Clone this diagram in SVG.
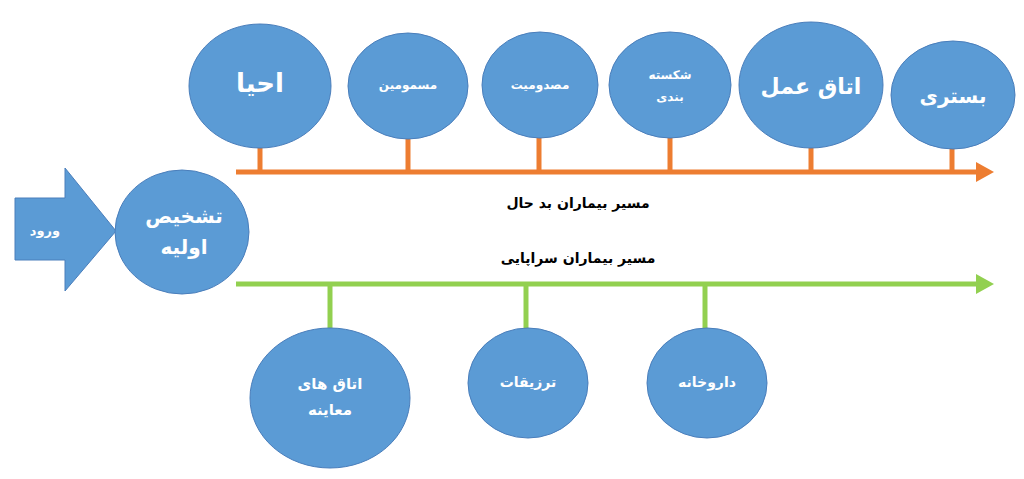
<svg xmlns="http://www.w3.org/2000/svg" width="1024" height="479" viewBox="0 0 1024 479">
<defs>
<style>
.n{fill:#5B9BD5;stroke:#4A7EBB;stroke-width:1}
.t{fill:#ffffff;font-family:"DejaVu Sans",sans-serif;font-weight:bold;text-anchor:middle;dominant-baseline:central}
.k{fill:#000000;font-family:"DejaVu Sans",sans-serif;font-weight:bold;text-anchor:middle;dominant-baseline:central;font-size:14px}
.o{stroke:#ED7D31;stroke-width:5;fill:none}
.g{stroke:#92D050;stroke-width:5;fill:none}
</style>
<marker id="ao" markerUnits="userSpaceOnUse" markerWidth="18" markerHeight="20" refX="2" refY="10" orient="auto"><path d="M0,0 L18,10 L0,20 Z" fill="#ED7D31"/></marker>
<marker id="ag" markerUnits="userSpaceOnUse" markerWidth="18" markerHeight="20" refX="2" refY="10" orient="auto"><path d="M0,0 L18,10 L0,20 Z" fill="#92D050"/></marker>
</defs>
<rect width="1024" height="479" fill="#ffffff"/>
<g id="connectors">
<line class="o" x1="236" y1="172" x2="978" y2="172" marker-end="url(#ao)"/>
<line class="o" x1="260" y1="148" x2="260" y2="172"/>
<line class="o" x1="408" y1="139" x2="408" y2="172"/>
<line class="o" x1="539" y1="138" x2="539" y2="172"/>
<line class="o" x1="670" y1="138" x2="670" y2="172"/>
<line class="o" x1="811" y1="148" x2="811" y2="172"/>
<line class="o" x1="952" y1="148" x2="952" y2="172"/>
<line class="g" x1="236" y1="284" x2="978" y2="284" marker-end="url(#ag)"/>
<line class="g" x1="330" y1="284" x2="330" y2="328"/>
<line class="g" x1="526" y1="284" x2="526" y2="329"/>
<line class="g" x1="705" y1="284" x2="705" y2="329"/>
</g>
<g id="entry">
<path class="n" d="M15,198 L65,198 L65,168 L116,231 L65,291 L65,260 L15,260 Z"/>
<text class="t" x="45" y="230" font-size="13">ورود</text>
</g>
<g id="diagnosis">
<ellipse class="n" cx="182" cy="232" rx="67" ry="62"/>
<text class="t" x="184" y="216" font-size="20">تشخیص</text>
<text class="t" x="184" y="247" font-size="20">اولیه</text>
</g>
<g id="ehya">
<ellipse class="n" cx="260" cy="86" rx="71" ry="62"/>
<text class="t" x="260" y="83" font-size="26">احیا</text>
</g>
<g id="masmumin">
<ellipse class="n" cx="408" cy="86" rx="60" ry="53"/>
<text class="t" x="408" y="85" font-size="12">مسمومین</text>
</g>
<g id="masdumiat">
<ellipse class="n" cx="540" cy="85" rx="58" ry="53"/>
<text class="t" x="540" y="85" font-size="12">مصدومیت</text>
</g>
<g id="shekaste">
<ellipse class="n" cx="670" cy="85" rx="61" ry="53"/>
<text class="t" x="670" y="75" font-size="12">شکسته</text>
<text class="t" x="670" y="97" font-size="12">بندی</text>
</g>
<g id="otagh-amal">
<ellipse class="n" cx="811" cy="85" rx="72" ry="63"/>
<text class="t" x="811" y="86" font-size="22">اتاق عمل</text>
</g>
<g id="bastari">
<ellipse class="n" cx="953" cy="95" rx="62" ry="54"/>
<text class="t" x="953" y="96" font-size="20">بستری</text>
</g>
<g id="labels">
<text class="k" x="578" y="203">مسیر بیماران بد حال</text>
<text class="k" x="578" y="258">مسیر بیماران سراپایی</text>
</g>
<g id="moayene">
<ellipse class="n" cx="330" cy="398" rx="80" ry="70"/>
<text class="t" x="330" y="384" font-size="15">اتاق های</text>
<text class="t" x="330" y="410" font-size="15">معاینه</text>
</g>
<g id="tazrighat">
<ellipse class="n" cx="528" cy="383" rx="60" ry="55"/>
<text class="t" x="528" y="382" font-size="14">ترزیقات</text>
</g>
<g id="darukhane">
<ellipse class="n" cx="707" cy="383" rx="60" ry="55"/>
<text class="t" x="707" y="382" font-size="14">داروخانه</text>
</g>
</svg>
